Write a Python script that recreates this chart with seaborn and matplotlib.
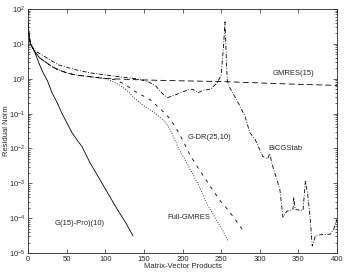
import numpy as np
import pandas as pd
import matplotlib
matplotlib.use("Agg")
import matplotlib.pyplot as plt
import seaborn as sns

# matvec counts and log10 of residual norm
gpro_x = [0, 1, 3, 9, 15, 20, 25, 31, 38, 44, 50, 57, 63, 70, 80, 93, 105, 117, 127, 136]
gpro_log = [1.65, 1.35, 1.0, 0.75, 0.4, 0.15, -0.05, -0.4, -0.7, -1.0, -1.25,
            -1.55, -1.74, -1.95, -2.4, -2.89, -3.35, -3.8, -4.15, -4.51]

gmres15_x = [0, 1, 3, 9, 15, 22, 30, 39, 50, 61, 83, 100, 130, 160, 200, 250, 300, 350, 400]
gmres15_log = [1.65, 1.3, 1.0, 0.77, 0.6, 0.49, 0.36, 0.26, 0.17, 0.11, 0.05,
               0.01, -0.02, -0.04, -0.06, -0.08, -0.12, -0.16, -0.19]

full_x = [0, 1, 3, 9, 15, 22, 30, 39, 50, 61, 83, 100, 110, 120, 130, 140, 150,
          160, 170, 178, 184, 190, 196, 203, 210, 219, 226, 232, 240, 245, 252, 259]
full_log = [1.65, 1.3, 1.0, 0.77, 0.6, 0.49, 0.36, 0.26, 0.17, 0.11, 0.05, 0.0,
            -0.08, -0.2, -0.38, -0.6, -0.78, -0.92, -1.08, -1.25, -1.46, -1.75,
            -2.05, -2.31, -2.6, -2.97, -3.3, -3.6, -3.9, -4.1, -4.35, -4.66]

gdr_x = [0, 1, 3, 9, 15, 22, 30, 39, 50, 61, 83, 100, 113, 126, 139, 158, 168,
         180, 190, 200, 210, 220, 236, 249, 258, 265, 277]
gdr_log = [1.65, 1.3, 1.0, 0.77, 0.6, 0.49, 0.36, 0.26, 0.17, 0.11, 0.05, 0.01,
           -0.03, -0.17, -0.37, -0.6, -0.8, -1.05, -1.35, -1.75, -2.2, -2.55,
           -3.09, -3.51, -3.74, -3.94, -4.31]

bicg_x = [0, 1, 3, 9, 22, 39, 61, 80, 100, 120, 140, 155, 165, 175, 181, 190,
          201, 210, 214, 220, 228, 236, 245, 250, 253, 255, 257, 258, 261, 270,
          281, 287, 294, 304, 310, 313, 316, 326, 330, 335, 343, 344, 346, 356,
          359, 362, 365, 368, 372, 380, 391, 396, 400]
bicg_log = [1.65, 1.3, 1.0, 0.8, 0.63, 0.4, 0.26, 0.17, 0.11, 0.05, 0.0, -0.08,
            -0.2, -0.45, -0.54, -0.47, -0.37, -0.3, -0.31, -0.4, -0.32, -0.31,
            -0.11, 0.1, 0.9, 1.63, 0.4, -0.05, -0.25, -0.6, -1.08, -1.54, -1.74,
            -2.23, -2.3, -2.15, -2.45, -3.17, -3.97, -3.8, -3.75, -3.4, -3.75,
            -3.78, -2.94, -3.3, -3.94, -4.8, -4.51, -4.47, -4.46, -4.3, -4.03]

series = {
    "G(15)-Pro)(10)": (gpro_x, gpro_log),
    "GMRES(15)": (gmres15_x, gmres15_log),
    "Full-GMRES": (full_x, full_log),
    "G-DR(25,10)": (gdr_x, gdr_log),
    "BiCGStab": (bicg_x, bicg_log),
}

df = pd.concat([
    pd.DataFrame({"method": name, "matvec": x, "resid": 10 ** np.array(lg)})
    for name, (x, lg) in series.items()
], ignore_index=True)

sns.set_style("ticks")
plt.rcParams["font.family"] = ["Liberation Sans", "DejaVu Sans"]
plt.rcParams["mathtext.default"] = "regular"
plt.rcParams["font.size"] = 5.5

fig = plt.figure(figsize=(3.46, 2.73), dpi=100)
ax = fig.add_axes([0.081, 0.073, 0.893, 0.894])

dashes = {
    "G(15)-Pro)(10)": "",
    "GMRES(15)": (7, 4),
    "Full-GMRES": (1, 2),
    "G-DR(25,10)": (4, 6),
    "BiCGStab": (5, 2, 1, 2),
}
sns.lineplot(data=df, x="matvec", y="resid", hue="method", style="method",
             dashes=dashes, palette={k: "black" for k in series},
             estimator=None, sort=False, lw=0.6, legend=False, ax=ax)

ax.set_yscale("log")
ax.set_xlim(0, 400)
ax.set_ylim(1e-5, 1e2)
ax.set_xticks(range(0, 401, 50))
ax.tick_params(direction="in", top=True, right=True, which="both",
               labelsize=5.5, width=0.5, pad=2)
ax.tick_params(which="major", length=3)
ax.tick_params(which="minor", length=1.5)
for s in ax.spines.values():
    s.set_linewidth(0.6)
ax.set_xlabel("Matrix-Vector Products", fontsize=5.5)
ax.set_ylabel("Residual Norm", fontsize=5.5)
ax.xaxis.set_label_coords(0.5, -0.041)
ax.yaxis.set_label_coords(-0.058, 0.5)

ax.text(317, 10 ** 0.05, "GMRES(15)", fontsize=5.5, va="bottom")
ax.text(206, 10 ** -1.69, "G-DR(25,10)", fontsize=5.5, va="center")
ax.text(311, 10 ** -2.0, "BiCGStab", fontsize=5.5, va="center")
ax.text(180, 10 ** -3.97, "Full-GMRES", fontsize=5.5, va="center")
ax.text(35, 10 ** -4.14, "G(15)-Pro)(10)", fontsize=5.5, va="center")

fig.savefig("out.png", dpi=100)
